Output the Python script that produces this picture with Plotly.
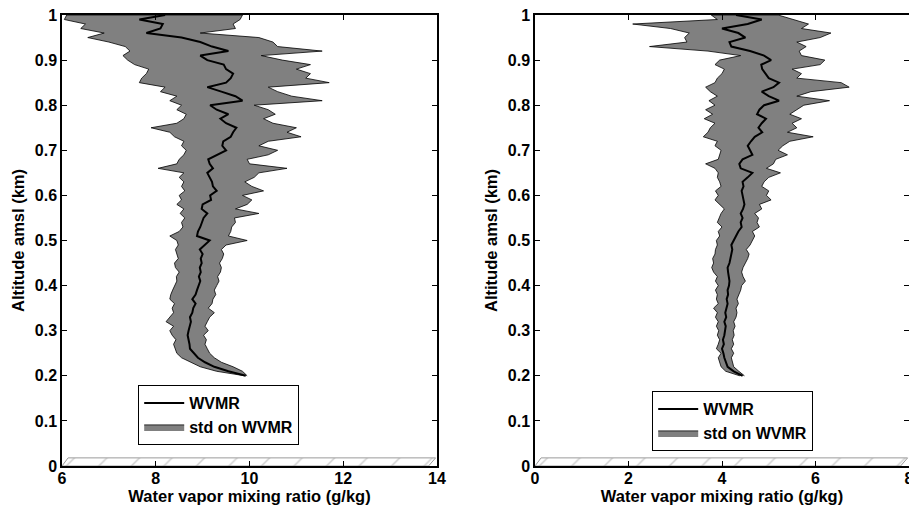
import plotly.graph_objects as go

# Altitude levels (km)
altitude = [round(0.20 + 0.01 * i, 2) for i in range(81)]

# Left panel: mean WVMR and std envelope (g/kg)
left_mean = [9.92, 9.55, 9.25, 9.05, 8.90, 8.82, 8.73, 8.72, 8.70, 8.68,
             8.70, 8.72, 8.75, 8.73, 8.78, 8.80, 8.85, 8.78, 8.85, 8.88,
             8.92, 8.95, 8.92, 8.96, 8.94, 8.98, 8.96, 9.00, 8.94, 9.05,
             9.15, 8.88, 8.90, 8.95, 8.98, 9.02, 9.10, 8.98, 9.00, 9.18,
             9.16, 9.30, 9.22, 9.20, 9.15, 9.10, 9.22, 9.15, 9.12, 9.30,
             9.50, 9.42, 9.44, 9.60, 9.65, 9.72, 9.50, 9.38, 9.55, 9.30,
             9.16, 9.85, 9.70, 9.40, 9.10, 9.50, 9.60, 9.65, 9.50, 9.45,
             9.10, 8.95, 9.55, 9.20, 8.95, 8.55, 7.80, 8.10, 8.15, 7.65,
             8.20]
left_low = [9.90, 9.30, 8.95, 8.75, 8.55, 8.45, 8.42, 8.38, 8.43, 8.35,
            8.30, 8.38, 8.22, 8.30, 8.38, 8.35, 8.40, 8.30, 8.32, 8.36,
            8.40, 8.45, 8.44, 8.50, 8.42, 8.40, 8.48, 8.45, 8.42, 8.48,
            8.45, 8.30, 8.50, 8.58, 8.55, 8.62, 8.52, 8.60, 8.45, 8.55,
            8.50, 8.62, 8.55, 8.60, 8.50, 8.60, 8.05, 8.45, 8.50, 8.60,
            8.65, 8.55, 8.60, 8.40, 8.30, 7.90, 8.45, 8.60, 8.65, 8.45,
            8.55, 8.30, 8.45, 8.10, 8.20, 7.65, 7.70, 7.80, 7.85, 7.55,
            7.40, 7.30, 7.45, 7.35, 7.00, 6.55, 6.90, 6.40, 6.50, 6.05,
            6.10]
left_high = [9.95, 9.85, 9.65, 9.40, 9.25, 9.15, 9.10, 9.05, 9.08, 9.02,
             9.12, 9.05, 9.10, 9.15, 9.25, 9.12, 9.20, 9.22, 9.28, 9.25,
             9.30, 9.35, 9.32, 9.38, 9.40, 9.36, 9.42, 9.45, 9.40, 9.50,
             9.95, 9.55, 9.60, 9.62, 9.70, 9.68, 10.20, 9.70, 9.95, 10.05,
             9.85, 10.30, 10.05, 9.90, 10.10, 10.20, 10.80, 10.00, 9.95, 10.40,
             10.60, 10.20, 10.40, 11.10, 10.80, 11.00, 10.50, 10.30, 10.55, 10.40,
             10.10, 11.55, 10.90, 10.60, 10.40, 11.70, 11.20, 11.30, 11.00, 11.30,
             10.70, 10.25, 11.55, 10.60, 10.50, 10.20, 8.95, 9.70, 9.65, 9.80,
             9.85]

# Right panel: mean WVMR and std envelope (g/kg)
right_mean = [4.44, 4.25, 4.12, 4.08, 4.05, 4.03, 4.00, 4.04, 4.02, 4.05,
              4.06, 4.08, 4.05, 4.09, 4.07, 4.10, 4.12, 4.10, 4.13, 4.12,
              4.15, 4.16, 4.14, 4.13, 4.12, 4.16, 4.18, 4.20, 4.22, 4.20,
              4.25, 4.30, 4.35, 4.42, 4.40, 4.44, 4.40, 4.45, 4.48, 4.46,
              4.44, 4.42, 4.46, 4.44, 4.55, 4.65, 4.40, 4.37, 4.44, 4.65,
              4.60, 4.55, 4.62, 4.70, 4.86, 4.78, 4.85, 4.94, 4.75, 4.80,
              4.90, 5.22, 5.00, 4.85, 5.10, 5.22, 5.00, 4.92, 4.86, 4.84,
              5.05, 4.90, 4.60, 4.20, 4.16, 4.50, 4.35, 4.00, 4.55, 4.85,
              4.30]
right_low = [4.38, 4.08, 3.98, 3.95, 3.92, 3.98, 3.88, 3.92, 3.95, 3.90,
             3.93, 3.88, 3.92, 3.86, 3.90, 3.82, 3.92, 3.88, 3.90, 3.86,
             3.92, 3.86, 3.90, 3.82, 3.78, 3.82, 3.80, 3.85, 3.86, 3.90,
             3.88, 3.95, 3.92, 4.00, 3.90, 3.94, 3.98, 4.05, 3.95, 3.85,
             3.92, 3.86, 3.98, 3.95, 3.90, 3.92, 3.85, 3.65, 3.92, 3.95,
             3.98, 3.85, 3.90, 3.60, 3.70, 3.75, 3.85, 3.62, 3.80, 3.65,
             3.85, 3.72, 3.90, 3.75, 3.65, 3.85, 3.90, 4.00, 4.05, 3.85,
             3.95, 4.40, 3.70, 2.45, 3.25, 3.20, 3.30, 2.90, 2.09, 3.90,
             3.77]
right_high = [4.48, 4.36, 4.25, 4.22, 4.20, 4.25, 4.20, 4.25, 4.22, 4.26,
              4.24, 4.28, 4.25, 4.30, 4.32, 4.30, 4.35, 4.32, 4.36, 4.40,
              4.42, 4.50, 4.45, 4.42, 4.45, 4.50, 4.55, 4.58, 4.52, 4.60,
              4.65, 4.70, 4.65, 4.80, 4.75, 4.78, 4.70, 4.85, 4.80, 5.05,
              4.95, 5.00, 4.85, 4.90, 5.00, 5.25, 4.95, 5.10, 5.15, 5.40,
              5.20, 5.30, 5.45, 5.95, 5.40, 5.60, 5.50, 5.70, 5.45, 5.60,
              5.75, 6.30, 5.60, 5.90, 6.72, 6.55, 5.60, 5.70, 5.50, 6.10,
              6.20, 5.70, 5.65, 5.80, 5.60, 6.10, 6.33, 5.70, 5.85, 5.55,
              5.20]

# Hatched ground strip (decorative), in axis units
left_ground_x = [6.0, 6.13, 13.97, 13.82, 6.0]
right_ground_x = [0.0, 0.13, 7.97, 7.82, 0.0]
ground_y = [0.0, 0.018, 0.018, 0.0, 0.0]

x_ticks_left = [6, 8, 10, 12, 14]
x_ticks_right = [0, 2, 4, 6, 8]
y_ticks = [0, 0.1, 0.2, 0.3, 0.4, 0.5, 0.6, 0.7, 0.8, 0.9, 1]
y_tick_text = ["0", "0.1", "0.2", "0.3", "0.4", "0.5", "0.6", "0.7", "0.8", "0.9", "1"]

FONT = "Liberation Sans, Arial, sans-serif"
BAND = "#808080"

fig = go.Figure()


def add_panel(xa, ya, legend, gx, mean, low, high):
    fig.add_trace(go.Scatter(
        x=gx, y=ground_y, xaxis=xa, yaxis=ya, mode="lines",
        line=dict(color="#9a9a9a", width=1), fill="toself",
        fillcolor="white",
        fillpattern=dict(shape="/", size=23, solidity=0.06,
                         fgcolor="#9a9a9a", bgcolor="white"),
        showlegend=False, hoverinfo="skip"))
    fig.add_trace(go.Scatter(
        x=low + high[::-1], y=altitude + altitude[::-1],
        xaxis=xa, yaxis=ya, mode="lines", fill="toself",
        fillcolor=BAND, line=dict(color="black", width=0.8),
        name="std on WVMR", legend=legend, legendrank=2, hoverinfo="skip"))
    fig.add_trace(go.Scatter(
        x=mean, y=altitude, xaxis=xa, yaxis=ya, mode="lines",
        line=dict(color="black", width=2),
        name="WVMR", legend=legend, legendrank=1, hoverinfo="skip"))


add_panel("x", "y", "legend", left_ground_x, left_mean, left_low, left_high)
add_panel("x2", "y2", "legend2", right_ground_x, right_mean, right_low, right_high)

tickfont = dict(family=FONT, size=16, color="black", weight="bold")
titlefont = dict(family=FONT, size=16.5, color="black", weight="bold")
legfont = dict(family=FONT, size=16, color="black", weight="bold")

common_x = dict(showline=True, linecolor="black", linewidth=1.5, mirror="ticks",
                ticks="inside", ticklen=5, tickcolor="black", showgrid=False,
                zeroline=False, tickfont=tickfont, automargin=False,
                ticklabelstandoff=-3, ticklabeloverflow="allow",
                title=dict(text="Water vapor mixing ratio (g/kg)", font=titlefont, standoff=0))
common_y = dict(showline=True, linecolor="black", linewidth=1.5, mirror="ticks",
                ticks="inside", ticklen=5, tickcolor="black", showgrid=False,
                zeroline=False, tickfont=tickfont, range=[0, 1], automargin=False,
                tickvals=y_ticks, ticktext=y_tick_text,
                title=dict(text="Altitude amsl (km)", font=titlefont, standoff=6))

ydom = [43 / 509, 494 / 509]
fig.update_layout(
    width=909, height=509,
    margin=dict(l=0, r=0, t=0, b=0, autoexpand=False),
    paper_bgcolor="white", plot_bgcolor="white",
    xaxis=dict(domain=[62 / 909, 437 / 909], range=[6, 14], tickvals=x_ticks_left,
               anchor="y", **common_x),
    yaxis=dict(domain=ydom, anchor="x", **common_y),
    xaxis2=dict(domain=[535 / 909, 1.0], range=[0, 8], tickvals=x_ticks_right,
                anchor="y2", **common_x),
    yaxis2=dict(domain=ydom, anchor="x2", **common_y),
    legend=dict(x=138 / 909, y=(509 - 385) / 509, xanchor="left", yanchor="top",
                bordercolor="black", borderwidth=1.2, bgcolor="white",
                font=legfont, tracegroupgap=0, itemwidth=40),
    legend2=dict(x=652 / 909, y=(509 - 391) / 509, xanchor="left", yanchor="top",
                 bordercolor="black", borderwidth=1.2, bgcolor="white",
                 font=legfont, tracegroupgap=0, itemwidth=40),
    showlegend=True,
)

fig.write_html("out.html",
               config={"displayModeBar": False},
               post_script="document.body.style.margin='0';document.body.style.overflow='hidden';")
